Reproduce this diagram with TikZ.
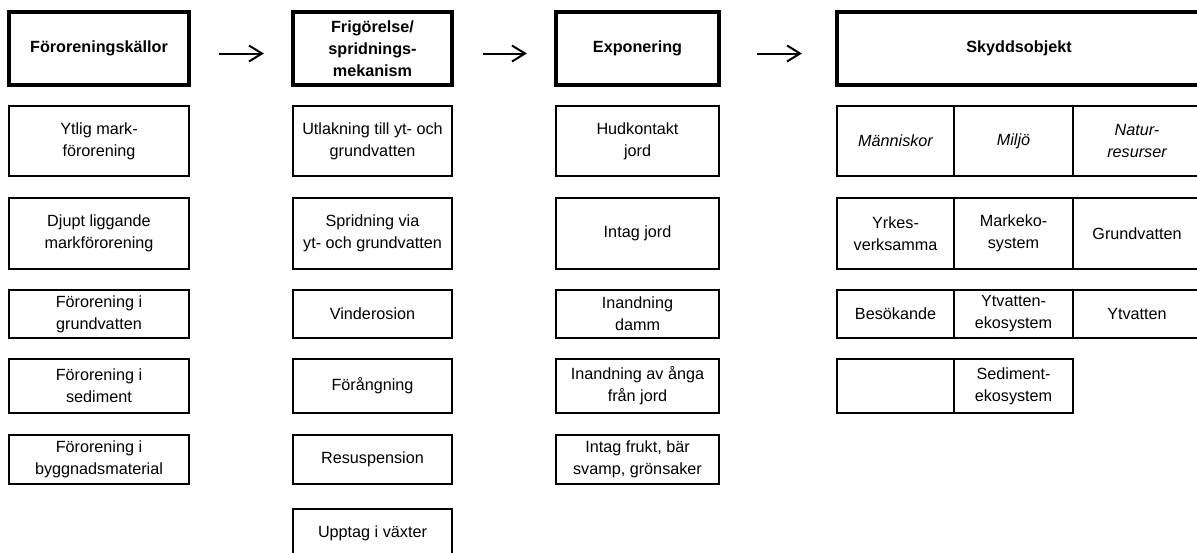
\documentclass[tikz,border=0pt]{standalone}
\usepackage{fontspec}
\setmainfont{Liberation Sans}
\usetikzlibrary{arrows.meta}
\begin{document}
\begin{tikzpicture}[x=0.5pt,y=-0.5pt]
% Stilar
\tikzstyle{ruta}=[draw,line width=1.4pt,inner sep=0pt,align=center,font=\fontsize{8.1}{11}\selectfont]
\tikzstyle{rubrik}=[ruta,line width=2.1pt,font=\fontsize{8.1}{11}\selectfont\bfseries]
\tikzstyle{kursiv}=[ruta,font=\fontsize{8.1}{11}\selectfont\itshape]
\tikzstyle{pil}=[-{Straight Barb[length=6.5pt,width=8pt]},line width=1pt]
% Kolumner : bredd
\tikzstyle{kolA}=[minimum width=90pt]
\tikzstyle{kolB}=[minimum width=79.5pt]
\tikzstyle{kolC}=[minimum width=81.5pt]
\tikzstyle{kolD}=[minimum width=182pt]
\tikzstyle{cellA}=[minimum width=58.5pt]
\tikzstyle{cellB}=[minimum width=59.5pt]
\tikzstyle{cellC}=[minimum width=64pt]
% Rader : hojd
\tikzstyle{radH}=[minimum height=36.5pt]
\tikzstyle{radI}=[minimum height=35pt]
\tikzstyle{radII}=[minimum height=35.5pt]
\tikzstyle{radIII}=[minimum height=24pt]
\tikzstyle{radIV}=[minimum height=27pt]
\tikzstyle{radV}=[minimum height=24.5pt]
\tikzstyle{radVI}=[minimum height=24pt]
% Kolumnernas mitt (px)
\def\xA{99}
\def\xB{372.5}
\def\xC{637.5}
\def\xD{1019}
\def\xDa{895.5}
\def\xDb{1013.5}
\def\xDc{1137}
% Radernas mitt (px)
\def\yH{48.5}
\def\yI{141}
\def\yII{233.5}
\def\yIII{314}
\def\yIV{386}
\def\yV{459.5}
\def\yVI{533}
% Ram
\useasboundingbox (0,0) rectangle (1197,552);
\clip (0,0) rectangle (1197,552);
% Kolumn 1 : Föroreningskällor
\node[rubrik,kolA,radH] (kalla) at (\xA,\yH) {Föroreningskällor};
\node[ruta,kolA,radI] (ytlig) at (\xA,\yI) {Ytlig mark-\\förorening};
\node[ruta,kolA,radII] (djupt) at (\xA,\yII) {Djupt liggande\\markförorening};
\node[ruta,kolA,radIII] (grund) at (\xA,\yIII) {Förorening i\\grundvatten};
\node[ruta,kolA,radIV] (sediment) at (\xA,\yIV) {Förorening i\\sediment};
\node[ruta,kolA,radV] (bygg) at (\xA,\yV) {Förorening i\\byggnadsmaterial};
% Kolumn 2 : Frigörelse/spridningsmekanism
\node[rubrik,kolB,radH] (mekanism) at (\xB,\yH) {Frigörelse/\\spridnings-\\mekanism};
\node[ruta,kolB,radI] (utlakning) at (\xB,\yI) {Utlakning till yt- och\\grundvatten};
\node[ruta,kolB,radII] (spridning) at (\xB,\yII) {Spridning via\\yt- och grundvatten};
\node[ruta,kolB,radIII] (vind) at (\xB,\yIII) {Vinderosion};
\node[ruta,kolB,radIV] (forangning) at (\xB,\yIV) {Förångning};
\node[ruta,kolB,radV] (resusp) at (\xB,\yV) {Resuspension};
\node[ruta,kolB,radVI] (upptag) at (\xB,\yVI) {Upptag i växter};
% Kolumn 3 : Exponering
\node[rubrik,kolC,radH] (expo) at (\xC,\yH) {Exponering};
\node[ruta,kolC,radI] (hud) at (\xC,\yI) {Hudkontakt\\jord};
\node[ruta,kolC,radII] (intag) at (\xC,\yII) {Intag jord};
\node[ruta,kolC,radIII] (damm) at (\xC,\yIII) {Inandning\\damm};
\node[ruta,kolC,radIV] (anga) at (\xC,\yIV) {Inandning av ånga\\från jord};
\node[ruta,kolC,radV] (frukt) at (\xC,\yV) {Intag frukt, bär\\svamp, grönsaker};
% Kolumn 4 : Skyddsobjekt
\node[rubrik,kolD,radH] (skydd) at (\xD,\yH) {Skyddsobjekt};
\node[kursiv,cellA,radI] (manniskor) at (\xDa,\yI) {Människor};
\node[kursiv,cellB,radI] (miljo) at (\xDb,\yI) {Miljö};
\node[kursiv,cellC,radI] (natur) at (\xDc,\yI) {Natur-\\resurser};
\node[ruta,cellA,radII] (yrkes) at (\xDa,\yII) {Yrkes-\\verksamma};
\node[ruta,cellB,radII] (markeko) at (\xDb,\yII) {Markeko-\\system};
\node[ruta,cellC,radII] (grundvatten) at (\xDc,\yII) {Grundvatten};
\node[ruta,cellA,radIII] (besok) at (\xDa,\yIII) {Besökande};
\node[ruta,cellB,radIII] (ytvattenekos) at (\xDb,\yIII) {Ytvatten-\\ekosystem};
\node[ruta,cellC,radIII] (ytvatten) at (\xDc,\yIII) {Ytvatten};
\node[ruta,cellA,radIV] (tom) at (\xDa,\yIV) {};
\node[ruta,cellB,radIV] (sedeko) at (\xDb,\yIV) {Sediment-\\ekosystem};
% Pilar mellan rubrikerna
\draw[pil,shorten <=14pt,shorten >=13.5pt] ([yshift=-2.5pt]kalla.east) -- ([yshift=-2.5pt]mekanism.west);
\draw[pil,shorten <=14.5pt,shorten >=13.5pt] ([yshift=-2.5pt]mekanism.east) -- ([yshift=-2.5pt]expo.west);
\draw[pil,shorten <=18pt,shorten >=16.5pt] ([yshift=-2.5pt]expo.east) -- ([yshift=-2.5pt]skydd.west);
\end{tikzpicture}
\end{document}
